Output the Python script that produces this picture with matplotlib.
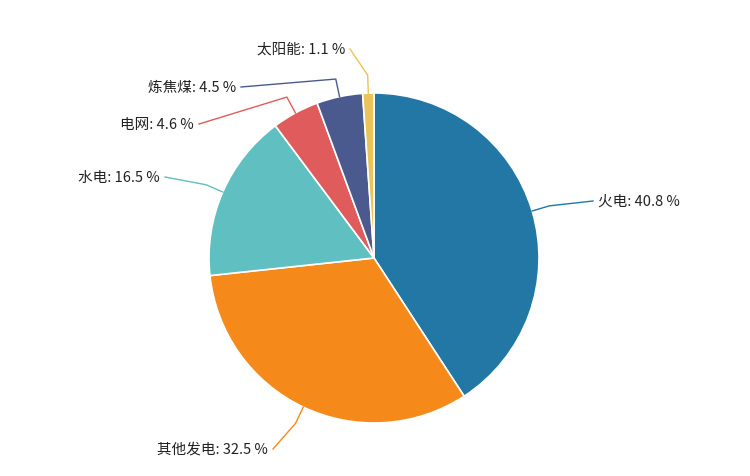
import numpy as np
import matplotlib.pyplot as plt

plt.rcParams['font.family'] = ['Noto Sans CJK SC', 'DejaVu Sans']

labels = ['火电', '其他发电', '水电', '电网', '炼焦煤', '太阳能']
values = [40.8, 32.5, 16.5, 4.6, 4.5, 1.1]
colors = ['#2277a4', '#f58a1a', '#60bfc0', '#e05c5c', '#4a5a8e', '#e8c45a']
# label anchor points (pixel coords, y from top) and text alignment
label_pos = [(598, 202), (268, 450), (160, 178), (194, 125), (236, 88), (345, 50)]
label_ha = ['left', 'right', 'right', 'right', 'right', 'right']

W, H = 750, 477
cx, cy, r = 374, H - 259, 165

fig = plt.figure(figsize=(7.5, 4.77), dpi=100)
ax = fig.add_axes([0, 0, 1, 1])

wedges, _ = ax.pie(values, colors=colors, startangle=90, counterclock=False,
                   center=(cx, cy), radius=r,
                   wedgeprops=dict(edgecolor='white', linewidth=1.2))

for w, lab, val, col, (lx, ly), ha in zip(wedges, labels, values, colors, label_pos, label_ha):
    ang = np.deg2rad((w.theta1 + w.theta2) / 2)
    ex, ey = cx + r * np.cos(ang), cy + r * np.sin(ang)
    mx, my = cx + (r + 18) * np.cos(ang), cy + (r + 18) * np.sin(ang)
    ly = H - ly
    tx = lx - 5 if ha == 'left' else lx + 5
    ax.plot([ex, mx, tx], [ey, my, ly], color=col, linewidth=1)
    ax.text(lx, ly, f'{lab}: {val} %', ha=ha, va='center', fontsize=10.5,
            color='#222222', fontweight='medium')

ax.set_xlim(0, W)
ax.set_ylim(0, H)
ax.set_aspect('equal')
ax.axis('off')

fig.savefig('out.png', dpi=100)
